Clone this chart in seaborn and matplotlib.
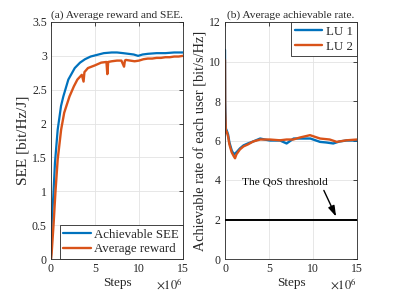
import matplotlib
matplotlib.use("Agg")
import matplotlib.pyplot as plt
import seaborn as sns
import pandas as pd

# ---------------- data (steps in units of 1e6) ----------------
see_steps = [0, 0.03, 0.1, 0.26, 0.45, 0.76, 1.14, 1.4, 1.97, 2.7, 3.3, 3.86, 4.5,
             5.4, 6.0, 6.9, 7.5, 8.2, 8.8, 9.4, 9.9, 10.4, 11, 12, 13, 14, 15]
see_vals = [0, 0.35, 0.6, 0.92, 1.42, 1.91, 2.26, 2.4, 2.65, 2.82, 2.9, 2.95, 2.99,
            3.02, 3.04, 3.05, 3.05, 3.04, 3.03, 3.02, 3.0, 3.02, 3.03, 3.04, 3.04, 3.05, 3.05]

rew_steps = [0, 0.07, 0.3, 0.5, 0.76, 1.15, 1.5, 2.1, 2.6, 3.0, 3.5, 3.7, 3.8, 4.2, 5.0,
             5.7, 6.3, 6.4, 6.5, 6.9, 7.5, 8.0, 8.3, 8.4, 8.5, 9.0, 9.5, 10.0, 10.5,
             11, 11.5, 12, 12.5, 13, 13.5, 14, 14.5, 15]
rew_vals = [0, 0.08, 0.53, 0.98, 1.47, 1.91, 2.16, 2.4, 2.55, 2.65, 2.72, 2.62, 2.76, 2.82, 2.86,
            2.9, 2.91, 2.73, 2.91, 2.92, 2.93, 2.93, 2.84, 2.93, 2.94, 2.93, 2.92, 2.93, 2.95,
            2.96, 2.96, 2.97, 2.97, 2.98, 2.98, 2.99, 2.99, 3.0]

lu1_steps = [0, 0.02, 0.1, 0.2, 0.35, 0.5, 0.76, 1.0, 1.3, 1.7, 2.1, 2.6, 3.2, 4.0, 4.5,
             5.1, 6.25, 7.0, 7.8, 8.5, 9.7, 10.8, 11.5, 12.3, 13.0, 13.8, 14.5, 15]
lu1_vals = [10.59, 8.0, 6.6, 6.5, 6.3, 5.9, 5.5, 5.3, 5.4, 5.6, 5.75, 5.85, 5.95, 6.1, 6.05,
            6.0, 6.0, 5.85, 6.1, 6.1, 6.1, 5.93, 5.9, 5.85, 5.95, 6.0, 6.0, 6.0]

lu2_steps = [0, 0.02, 0.1, 0.2, 0.35, 0.5, 0.76, 1.0, 1.14, 1.3, 1.7, 2.1, 2.6, 3.2, 4.0,
             5.1, 6.25, 7.0, 7.76, 8.5, 9.66, 10.8, 11.9, 12.7, 13.8, 15]
lu2_vals = [10.08, 7.5, 6.4, 6.45, 6.2, 5.8, 5.4, 5.2, 5.1, 5.3, 5.55, 5.7, 5.8, 5.95, 6.05,
            6.05, 6.01, 6.05, 6.05, 6.15, 6.27, 6.1, 6.05, 5.93, 6.01, 6.05]

qos_threshold = 2
x_ticks = [0, 5, 10, 15]
left_yticks = [0, 0.5, 1, 1.5, 2, 2.5, 3, 3.5]
left_yticklabels = ["0", "0.5", "1", "1.5", "2", "2.5", "3", "3.5"]
right_yticks = [0, 2, 4, 6, 8, 10, 12]

blue = "#0072BD"
orange = "#D95319"

# ---------------- style ----------------
sns.set_theme(style="whitegrid")
plt.rcParams.update({
    "font.family": ["Liberation Serif", "DejaVu Serif"],
    "mathtext.fontset": "stix",
    "axes.edgecolor": "#262626",
    "axes.linewidth": 0.6,
    "grid.color": "#e3e3e3",
    "grid.linewidth": 0.6,
    "xtick.color": "#262626",
    "ytick.color": "#262626",
    "text.color": "#262626",
    "axes.labelcolor": "#262626",
})

fig = plt.figure(figsize=(3.95, 2.96), dpi=100)
axL = fig.add_axes([51 / 395, 1 - 259 / 296, 132 / 395, 237 / 296])
axR = fig.add_axes([225 / 395, 1 - 259 / 296, 132 / 395, 237 / 296])

df_see = pd.DataFrame({"x": see_steps, "y": see_vals})
df_rew = pd.DataFrame({"x": rew_steps, "y": rew_vals})
sns.lineplot(data=df_see, x="x", y="y", ax=axL, color=blue, lw=1.6,
             label="Achievable SEE", sort=False, estimator=None)
sns.lineplot(data=df_rew, x="x", y="y", ax=axL, color=orange, lw=1.7,
             label="Average reward", sort=False, estimator=None)

df_1 = pd.DataFrame({"x": lu1_steps, "y": lu1_vals})
df_2 = pd.DataFrame({"x": lu2_steps, "y": lu2_vals})
sns.lineplot(data=df_1, x="x", y="y", ax=axR, color=blue, lw=1.7,
             label="LU 1", sort=False, estimator=None)
sns.lineplot(data=df_2, x="x", y="y", ax=axR, color=orange, lw=1.7,
             label="LU 2", sort=False, estimator=None)
axR.axhline(qos_threshold, color="black", lw=1.4, zorder=3)
axR.annotate("", xy=(12.76, 2.02), xytext=(11.1, 3.6),
             arrowprops=dict(arrowstyle="-|>,head_length=0.7,head_width=0.22",
                             color="black", lw=1.0, mutation_scale=9))
axR.text(6.76, 3.91, "The QoS threshold", ha="center", va="center", fontsize=8.2,
         color="black")

for ax in (axL, axR):
    ax.set_xlim(0, 15)
    ax.set_xticks(x_ticks)
    ax.set_xticklabels([str(t) for t in x_ticks])
    ax.tick_params(direction="in", top=True, right=True, length=3, width=0.6,
                   labelsize=8.5, pad=3)
    ax.set_xlabel("Steps", fontsize=9.5, labelpad=1)
    ax.text(1.0, -0.075, r"$\times10^{6}$", transform=ax.transAxes, ha="right",
            va="top", fontsize=9)
    for s in ax.spines.values():
        s.set_visible(True)
        s.set_color("#262626")
        s.set_linewidth(0.6)
    ax.grid(True)

axL.set_ylim(0, 3.5)
axL.set_yticks(left_yticks)
axL.set_yticklabels(left_yticklabels)
axL.set_ylabel("SEE [bit/Hz/J]", fontsize=11, labelpad=2)
axL.set_title("(a) Average reward and SEE.", fontsize=8.2, pad=3)

axR.set_ylim(0, 12)
axR.set_yticks(right_yticks)
axR.set_yticklabels([str(t) for t in right_yticks])
axR.set_ylabel("Achievable rate of each user [bit/s/Hz]", fontsize=10.3, labelpad=1)
axR.set_title("(b) Average achievable rate.", fontsize=8.2, pad=3)

legL = axL.legend(loc="lower right", fontsize=9.3, frameon=True, fancybox=False,
                  borderaxespad=0, handlelength=2.1, borderpad=0.3, labelspacing=0.2,
                  handletextpad=0.3)
legR = axR.legend(loc="upper right", fontsize=9.3, frameon=True, fancybox=False,
                  borderaxespad=0, handlelength=2.1, borderpad=0.3, labelspacing=0.2,
                  handletextpad=0.3)
for leg in (legL, legR):
    fr = leg.get_frame()
    fr.set_edgecolor("#262626")
    fr.set_linewidth(0.6)
    fr.set_alpha(1)

fig.savefig("out.png", dpi=100)
